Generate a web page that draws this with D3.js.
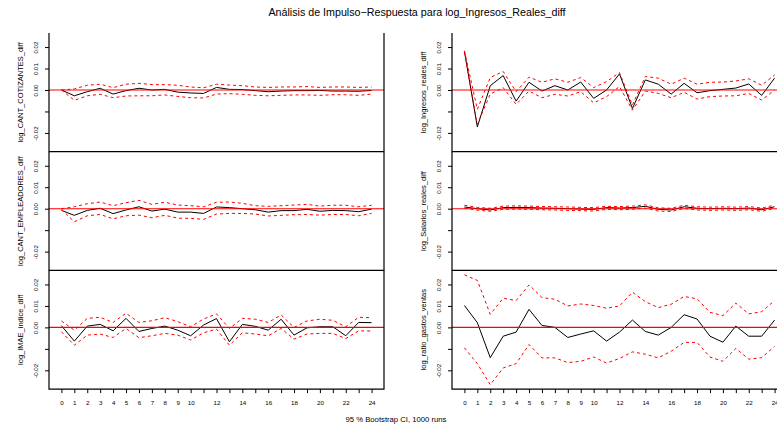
<!DOCTYPE html>
<html>
<head>
<meta charset="utf-8">
<script src="https://cdn.jsdelivr.net/npm/d3@7"></script>
<style>
  body { margin: 0; background: #fff; }
  svg { display: block; font-family: "Liberation Sans", Arial, sans-serif; }
</style>
</head>
<body>
<div id="chart"></div>
<script>
// horizonte del impulso-respuesta
const steps = [0,1,2,3,4,5,6,7,8,9,10,11,12,13,14,15,16,17,18,19,20,21,22,23,24]
const stepLabels = [0,1,2,3,4,5,6,7,8,9,10,12,14,16,18,20,22,24]
const yTicks = [-0.02, -0.01, 0, 0.01, 0.02]
const yTickLabels = ["-0.02", "", "0.00", "0.01", "0.02"]

const titleText = "Análisis de Impulso\u2212Respuesta para log_Ingresos_Reales_diff"
const footText = "95 % Bootstrap CI,  1000 runs"

// columna izquierda
const cotName = "log_CANT_COTIZANTES_diff"
const cotIrf   = [0, -0.0027, -0.0008, 0.0008, -0.0019, -0.0003, 0.0008, 0.0000, 0.0003, -0.0010, -0.0014, -0.0016, 0.0012, 0.0003, 0.0002, -0.0003, -0.0008, -0.0005, -0.0003, -0.0003, -0.0002, -0.0005, -0.0005, -0.0006, -0.0002]
const cotUpper = [0, 0.0005, 0.0022, 0.0027, 0.0011, 0.0027, 0.0031, 0.0025, 0.0025, 0.0022, 0.0014, 0.0010, 0.0027, 0.0023, 0.0020, 0.0014, 0.0012, 0.0014, 0.0014, 0.0016, 0.0012, 0.0014, 0.0014, 0.0012, 0.0014]
const cotLower = [0, -0.0048, -0.0027, -0.0020, -0.0036, -0.0028, -0.0027, -0.0027, -0.0023, -0.0030, -0.0036, -0.0037, -0.0019, -0.0017, -0.0020, -0.0025, -0.0027, -0.0025, -0.0023, -0.0023, -0.0025, -0.0022, -0.0022, -0.0025, -0.0019]

const empName = "log_CANT_EMPLEADORES_diff"
const empIrf   = [-0.0008, -0.0031, -0.0008, 0.0002, -0.0023, -0.0006, 0.0009, -0.0011, -0.0002, -0.0016, -0.0016, -0.0022, 0.0008, 0.0005, 0.0000, -0.0005, -0.0016, -0.0009, -0.0009, -0.0003, -0.0012, -0.0008, -0.0009, -0.0014, -0.0002]
const empUpper = [0, 0.0009, 0.0023, 0.0031, 0.0014, 0.0028, 0.0039, 0.0020, 0.0030, 0.0017, 0.0014, 0.0009, 0.0030, 0.0031, 0.0025, 0.0014, 0.0011, 0.0014, 0.0017, 0.0020, 0.0012, 0.0016, 0.0016, 0.0009, 0.0016]
const empLower = [-0.0003, -0.0061, -0.0033, -0.0027, -0.0047, -0.0033, -0.0030, -0.0042, -0.0031, -0.0044, -0.0045, -0.0050, -0.0025, -0.0022, -0.0022, -0.0025, -0.0034, -0.0031, -0.0028, -0.0027, -0.0030, -0.0027, -0.0027, -0.0033, -0.0022]

const imaeName = "log_IMAE_indice_diff"
const imaeIrf   = [0.0008, -0.0064, 0.0006, 0.0014, -0.0016, 0.0042, -0.0019, -0.0005, 0.0006, -0.0013, -0.0039, 0.0011, 0.0041, -0.0067, 0.0014, 0.0005, -0.0013, 0.0038, -0.0036, -0.0002, 0.0003, 0.0003, -0.0039, 0.0023, 0.0022]
const imaeUpper = [0.0030, -0.0013, 0.0042, 0.0047, 0.0023, 0.0066, 0.0023, 0.0031, 0.0045, 0.0027, 0.0003, 0.0039, 0.0063, -0.0005, 0.0042, 0.0038, 0.0023, 0.0058, 0.0000, 0.0030, 0.0038, 0.0033, 0.0003, 0.0047, 0.0045]
const imaeLower = [-0.0020, -0.0083, -0.0036, -0.0031, -0.0047, -0.0005, -0.0048, -0.0039, -0.0028, -0.0036, -0.0059, -0.0025, -0.0008, -0.0083, -0.0025, -0.0031, -0.0039, -0.0005, -0.0055, -0.0031, -0.0028, -0.0028, -0.0052, -0.0016, -0.0017]

// columna derecha
const ingName = "log_Ingresos_reales_diff"
const ingIrf   = [0.0180, -0.0172, 0.0020, 0.0067, -0.0052, 0.0036, -0.0005, 0.0020, 0.0000, 0.0037, -0.0039, 0.0000, 0.0075, -0.0086, 0.0047, 0.0027, -0.0019, 0.0031, -0.0013, -0.0003, 0.0003, 0.0009, 0.0028, -0.0025, 0.0055]
const ingUpper = [0.0183, -0.0090, 0.0058, 0.0086, -0.0008, 0.0060, 0.0036, 0.0052, 0.0036, 0.0058, 0.0011, 0.0039, 0.0081, -0.0070, 0.0063, 0.0055, 0.0027, 0.0055, 0.0027, 0.0036, 0.0037, 0.0042, 0.0052, 0.0022, 0.0070]
const ingLower = [0.0175, -0.0160, -0.0019, 0.0011, -0.0067, -0.0005, -0.0036, -0.0020, -0.0028, -0.0008, -0.0060, -0.0031, 0.0016, -0.0094, -0.0005, -0.0016, -0.0036, -0.0011, -0.0042, -0.0031, -0.0028, -0.0027, -0.0016, -0.0047, 0.0000]

const salName = "log_Salarios_reales_diff"
const salIrf   = [0.0008, 0.0000, -0.0006, 0.0005, 0.0006, 0.0005, 0.0003, 0.0002, 0.0000, -0.0002, -0.0003, 0.0005, 0.0003, 0.0005, 0.0011, -0.0003, -0.0006, 0.0009, 0.0002, 0.0000, 0.0002, 0.0000, 0.0003, -0.0005, 0.0009]
const salUpper = [0.0016, 0.0006, 0.0002, 0.0012, 0.0013, 0.0012, 0.0010, 0.0009, 0.0008, 0.0006, 0.0005, 0.0011, 0.0010, 0.0012, 0.0018, 0.0004, 0.0002, 0.0016, 0.0009, 0.0007, 0.0009, 0.0007, 0.0010, 0.0003, 0.0016]
const salLower = [0.0002, -0.0007, -0.0012, -0.0003, -0.0002, -0.0003, -0.0005, -0.0006, -0.0008, -0.0009, -0.0011, -0.0003, -0.0005, -0.0003, 0.0003, -0.0011, -0.0013, 0.0001, -0.0006, -0.0008, -0.0006, -0.0008, -0.0005, -0.0012, 0.0001]

const ratName = "log_ratio_gastos_ventas"
const ratIrf   = [0.0102, 0.0022, -0.0141, -0.0041, -0.0022, 0.0084, 0.0009, 0.0000, -0.0047, -0.0031, -0.0016, -0.0064, -0.0022, 0.0034, -0.0019, -0.0036, 0.0000, 0.0059, 0.0039, -0.0041, -0.0069, 0.0006, -0.0041, -0.0041, 0.0034]
const ratUpper = [0.0245, 0.0219, 0.0061, 0.0136, 0.0125, 0.0198, 0.0139, 0.0131, 0.0100, 0.0109, 0.0102, 0.0089, 0.0100, 0.0164, 0.0120, 0.0092, 0.0108, 0.0144, 0.0133, 0.0070, 0.0055, 0.0113, 0.0063, 0.0073, 0.0125]
const ratLower = [-0.0095, -0.0169, -0.0267, -0.0189, -0.0169, -0.0080, -0.0142, -0.0142, -0.0164, -0.0158, -0.0138, -0.0166, -0.0145, -0.0114, -0.0125, -0.0142, -0.0111, -0.0070, -0.0070, -0.0138, -0.0158, -0.0098, -0.0148, -0.0141, -0.0088]

const panels = [
  {col:0,row:0,name:cotName,irf:cotIrf,upper:cotUpper,lower:cotLower},
  {col:0,row:1,name:empName,irf:empIrf,upper:empUpper,lower:empLower},
  {col:0,row:2,name:imaeName,irf:imaeIrf,upper:imaeUpper,lower:imaeLower},
  {col:1,row:0,name:ingName,irf:ingIrf,upper:ingUpper,lower:ingLower},
  {col:1,row:1,name:salName,irf:salIrf,upper:salUpper,lower:salLower},
  {col:1,row:2,name:ratName,irf:ratIrf,upper:ratUpper,lower:ratLower}
]

const W = 777, H = 437
const colLeft = [49, 452], panelW = 335
const top0 = 33, panelH = 118.7

const svg = d3.select("#chart").append("svg").attr("width", W).attr("height", H)

// mismo rango en y para todos los paneles (como ylim de R, +4%)
let all = []
panels.forEach(p => { all = all.concat(p.irf, p.upper, p.lower) })
const ext = d3.extent(all)
const pad = (ext[1] - ext[0]) * 0.04

panels.forEach(p => {
  const left = colLeft[p.col]
  const top = top0 + p.row * panelH
  const x = d3.scaleLinear().domain([steps[0] - 0.96, steps[steps.length-1] + 0.96]).range([left, left + panelW])
  const y = d3.scaleLinear().domain([ext[0] - pad, ext[1] + pad]).range([top + panelH, top])
  const g = svg.append("g")

  const line = d3.line().x((d,i) => x(steps[i])).y(d => y(d))

  g.append("path").attr("d", line(p.irf))
    .attr("fill","none").attr("stroke","#000").attr("stroke-width",1)
  g.append("line").attr("x1", left).attr("x2", left + panelW)
    .attr("y1", y(0)).attr("y2", y(0)).attr("stroke","#ff0000").attr("stroke-width",1.1)
  ;[p.upper, p.lower].forEach(s => {
    g.append("path").attr("d", line(s))
      .attr("fill","none").attr("stroke","#ff0000").attr("stroke-width",1)
      .attr("stroke-dasharray","3,3")
  })

  // caja sin tope (izq, der, abajo)
  g.append("path")
    .attr("d", `M${left},${top}V${top+panelH}H${left+panelW}V${top}`)
    .attr("fill","none").attr("stroke","#000").attr("stroke-width",1.2)

  const ya = g.append("g").attr("transform", `translate(${left},0)`)
    .call(d3.axisLeft(y).tickValues(yTicks).tickSize(4)
      .tickFormat((d,i) => yTickLabels[i]))
  ya.select(".domain").remove()
  ya.selectAll("line").attr("stroke","#000")
  ya.selectAll("text")
    .attr("transform","rotate(-90)")
    .attr("x",0).attr("y",-13).attr("dy","0.35em")
    .attr("text-anchor","middle")
    .attr("font-size",6.2).attr("fill","#000")

  g.append("text")
    .attr("transform", `translate(${left-29},${top + panelH/2}) rotate(-90)`)
    .attr("text-anchor","middle").attr("dy","0.35em")
    .attr("font-size",7.5).text(p.name)

  if (p.row === 2) {
    const xa = g.append("g").attr("transform", `translate(0,${top+panelH})`)
      .call(d3.axisBottom(x).tickValues(steps).tickSize(4)
        .tickFormat(d => stepLabels.includes(d) ? d : ""))
    xa.select(".domain").remove()
    xa.selectAll("line").attr("stroke","#000")
    xa.selectAll("text").attr("y",15.5).attr("dy","0")
      .attr("font-size",6.2).attr("fill","#000")
  }
})

svg.append("text").attr("x",417).attr("y",16).attr("text-anchor","middle")
  .attr("font-size",10.7).text(titleText)
svg.append("text").attr("x",396).attr("y",422).attr("text-anchor","middle")
  .attr("font-size",7.7).text(footText)
</script>
</body>
</html>
